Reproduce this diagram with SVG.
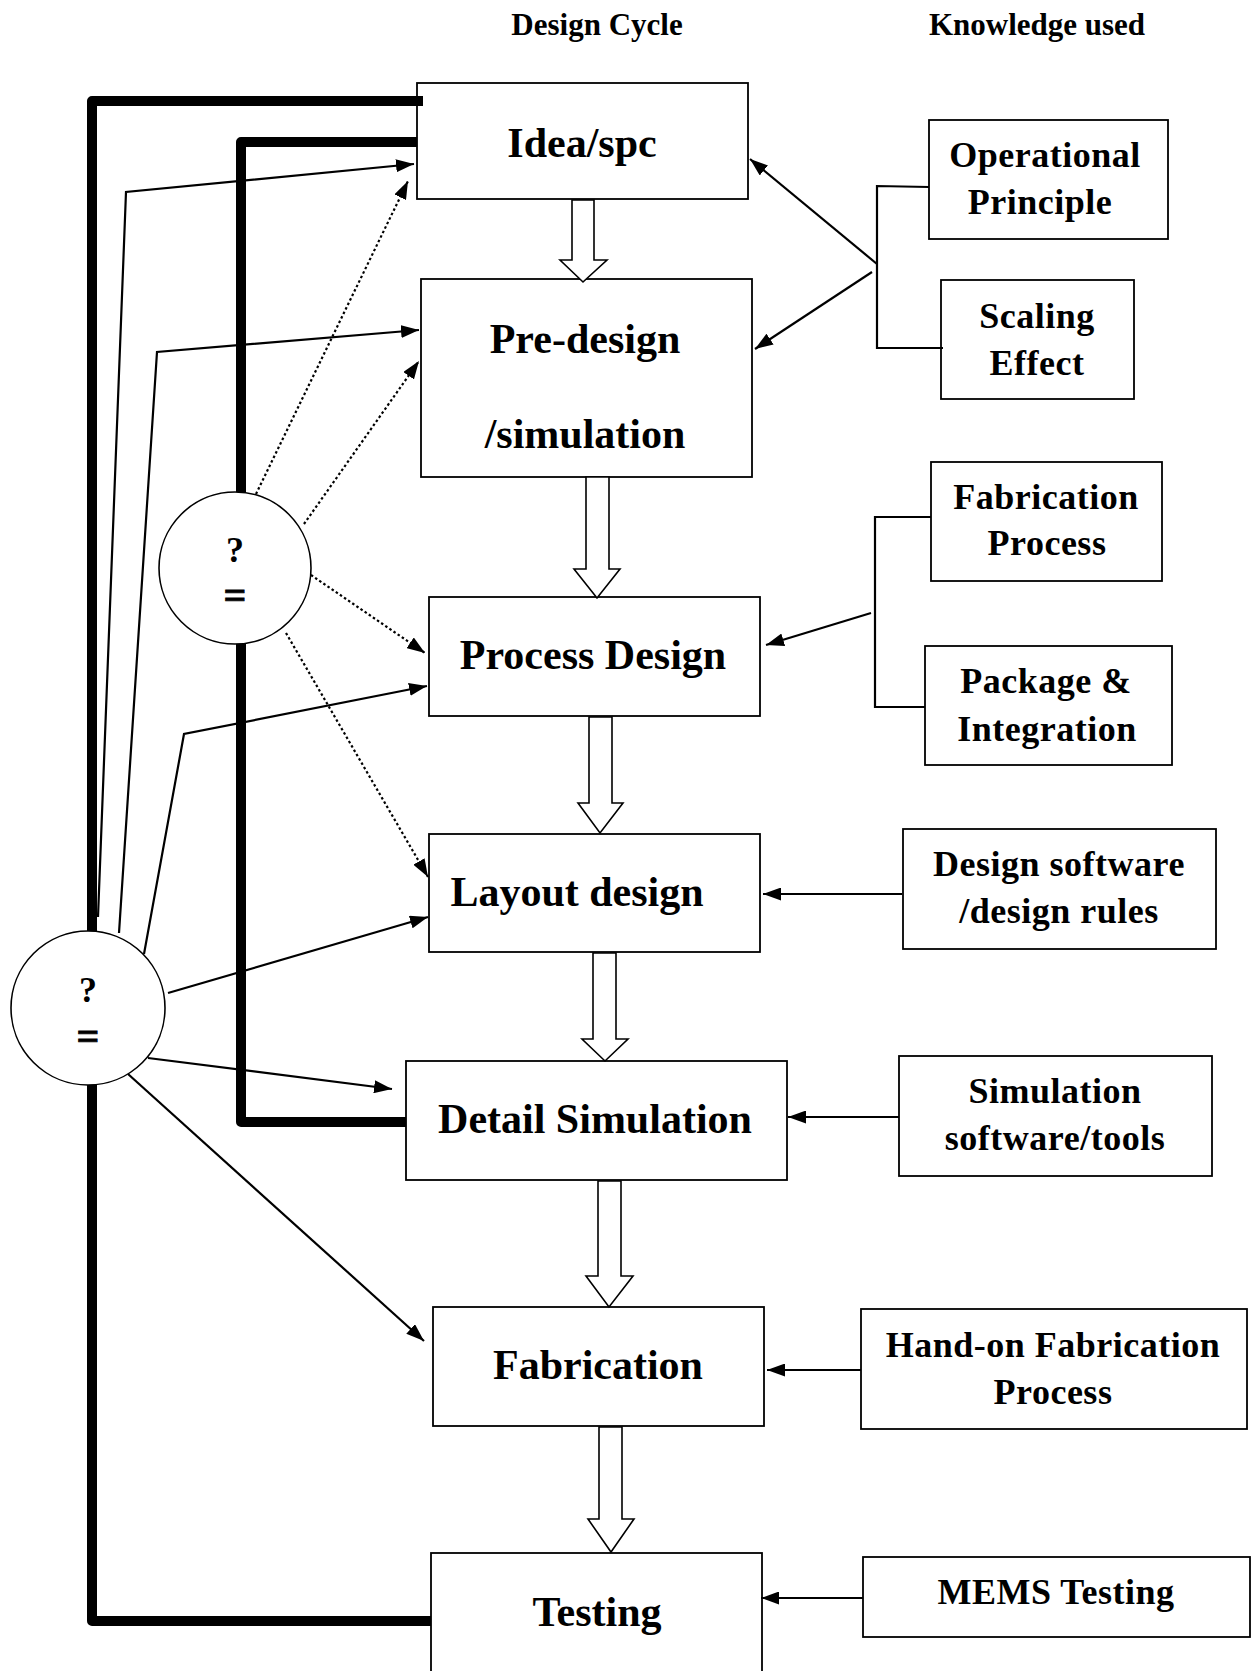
<svg xmlns="http://www.w3.org/2000/svg" width="1252" height="1671" viewBox="0 0 1252 1671">
<defs>
<style>
.box{fill:#fff;stroke:#000;stroke-width:1.8}
.lt{font-family:"Liberation Serif","Times New Roman",serif;font-weight:bold;font-size:42px;text-anchor:middle;fill:#000}
.rt{font-family:"Liberation Serif","Times New Roman",serif;font-weight:bold;font-size:36px;text-anchor:middle;fill:#000;letter-spacing:0.5px}
.hd{font-family:"Liberation Serif","Times New Roman",serif;font-weight:bold;font-size:31px;text-anchor:middle;fill:#000}
.ct{font-family:"Liberation Serif","Times New Roman",serif;font-weight:bold;font-size:36px;text-anchor:middle;fill:#000}
.eq{font-family:"Liberation Serif","Times New Roman",serif;font-weight:bold;font-size:40px;text-anchor:middle;fill:#000;stroke:#000;stroke-width:0.8}
.thick{fill:none;stroke:#000;stroke-width:10;stroke-linejoin:round}
.thin{fill:none;stroke:#000;stroke-width:2.2}
.dot{fill:none;stroke:#000;stroke-width:2.2;stroke-dasharray:2.5 2.5}
.hollow{fill:#fff;stroke:#000;stroke-width:1.6;stroke-linejoin:miter}
.circ{fill:#fff;stroke:#000;stroke-width:1.6}
</style>
<marker id="ah" viewBox="0 0 18 13" refX="18" refY="6.5" markerWidth="18" markerHeight="13" markerUnits="userSpaceOnUse" orient="auto">
<path d="M0,0 L18,6.5 L0,13 z" fill="#000"/>
</marker>
</defs>
<rect x="0" y="0" width="1252" height="1671" fill="#fff"/>

<text class="hd" x="597" y="35">Design Cycle</text>
<text class="hd" x="1037" y="35">Knowledge used</text>

<g id="idea"><rect class="box" x="417" y="83" width="331" height="116"/><text class="lt" x="582" y="157">Idea/spc</text></g>
<g id="predesign"><rect class="box" x="421" y="279" width="331" height="198"/><text class="lt" x="585" y="353">Pre-design</text><text class="lt" x="585" y="448">/simulation</text></g>
<g id="process"><rect class="box" x="429" y="597" width="331" height="119"/><text class="lt" x="593" y="669">Process Design</text></g>
<g id="layout"><rect class="box" x="429" y="834" width="331" height="118"/><text class="lt" x="577" y="906">Layout design</text></g>
<g id="detail"><rect class="box" x="406" y="1061" width="381" height="119"/><text class="lt" x="595" y="1133">Detail Simulation</text></g>
<g id="fabrication"><rect class="box" x="433" y="1307" width="331" height="119"/><text class="lt" x="598" y="1379">Fabrication</text></g>
<g id="testing"><rect class="box" x="431" y="1553" width="331" height="140"/><text class="lt" x="597" y="1626">Testing</text></g>

<g id="operational"><rect class="box" x="929" y="120" width="239" height="119"/><text class="rt" x="1045" y="167">Operational</text><text class="rt" x="1040" y="214">Principle</text></g>
<g id="scaling"><rect class="box" x="941" y="280" width="193" height="119"/><text class="rt" x="1037" y="328">Scaling</text><text class="rt" x="1037" y="375">Effect</text></g>
<g id="fabprocess"><rect class="box" x="931" y="462" width="231" height="119"/><text class="rt" x="1046" y="509">Fabrication</text><text class="rt" x="1047" y="555">Process</text></g>
<g id="package"><rect class="box" x="925" y="646" width="247" height="119"/><text class="rt" x="1046" y="693">Package &amp;</text><text class="rt" x="1047" y="741">Integration</text></g>
<g id="designsw"><rect class="box" x="903" y="829" width="313" height="120"/><text class="rt" x="1059" y="876">Design software</text><text class="rt" x="1059" y="923">/design rules</text></g>
<g id="simsw"><rect class="box" x="899" y="1056" width="313" height="120"/><text class="rt" x="1055" y="1103">Simulation</text><text class="rt" x="1055" y="1150">software/tools</text></g>
<g id="handon"><rect class="box" x="861" y="1309" width="386" height="120"/><text class="rt" x="1053" y="1357">Hand-on Fabrication</text><text class="rt" x="1053" y="1404">Process</text></g>
<g id="memstest"><rect class="box" x="863" y="1557" width="387" height="80"/><text class="rt" x="1056" y="1604">MEMS Testing</text></g>

<g id="connectors">
<polyline class="thick" points="423,101 92,101 92,1621 431,1621"/>
<polyline class="thick" points="417,142 241,142 241,1122 406,1122"/>

<polyline class="thin" points="98,917 126,192 414,164" marker-end="url(#ah)"/>
<polyline class="thin" points="119,933 157,352 419,330" marker-end="url(#ah)"/>
<polyline class="thin" points="144,954 184,734 427,686" marker-end="url(#ah)"/>
<polyline class="thin" points="168,993 428,917" marker-end="url(#ah)"/>
<polyline class="thin" points="148,1058 392,1089" marker-end="url(#ah)"/>
<polyline class="thin" points="128,1074 424,1341" marker-end="url(#ah)"/>

<line class="dot" x1="256" y1="494" x2="408" y2="181" marker-end="url(#ah)"/>
<line class="dot" x1="304" y1="524" x2="419" y2="361" marker-end="url(#ah)"/>
<line class="dot" x1="311" y1="575" x2="425" y2="653" marker-end="url(#ah)"/>
<line class="dot" x1="286" y1="633" x2="428" y2="877" marker-end="url(#ah)"/>

<polyline class="thin" points="929,187 877,186 877,348 943,348"/>
<polyline class="thin" points="931,517 875,517 875,707 925,707"/>
<line class="thin" x1="877" y1="264" x2="750" y2="159" marker-end="url(#ah)"/>
<line class="thin" x1="872" y1="272" x2="755" y2="349" marker-end="url(#ah)"/>
<line class="thin" x1="871" y1="613" x2="766" y2="645" marker-end="url(#ah)"/>
<line class="thin" x1="902" y1="894" x2="763" y2="894" marker-end="url(#ah)"/>
<line class="thin" x1="899" y1="1117" x2="788" y2="1117" marker-end="url(#ah)"/>
<line class="thin" x1="861" y1="1370" x2="767" y2="1370" marker-end="url(#ah)"/>
<line class="thin" x1="863" y1="1598" x2="761" y2="1598" marker-end="url(#ah)"/>

<path class="hollow" d="M572,200 L594,200 L594,260 L607,260 L583,282 L560,260 L572,260 Z"/>
<path class="hollow" d="M586,477 L609,477 L609,569 L620,569 L597,598 L574,569 L586,569 Z"/>
<path class="hollow" d="M589,717 L612,717 L612,803 L623,803 L600,833 L578,803 L589,803 Z"/>
<path class="hollow" d="M593,953 L616,953 L616,1039 L628,1039 L605,1061 L582,1039 L593,1039 Z"/>
<path class="hollow" d="M598,1181 L621,1181 L621,1276 L633,1276 L609,1307 L586,1276 L598,1276 Z"/>
<path class="hollow" d="M599,1427 L622,1427 L622,1519 L634,1519 L611,1552 L588,1519 L599,1519 Z"/>
</g>

<g id="check1"><circle class="circ" cx="235" cy="568" r="76"/><text class="ct" x="235" y="562">?</text><text class="eq" x="235" y="609">=</text></g>
<g id="check2"><circle class="circ" cx="88" cy="1008" r="77"/><text class="ct" x="88" y="1002">?</text><text class="eq" x="88" y="1050">=</text></g>
</svg>
